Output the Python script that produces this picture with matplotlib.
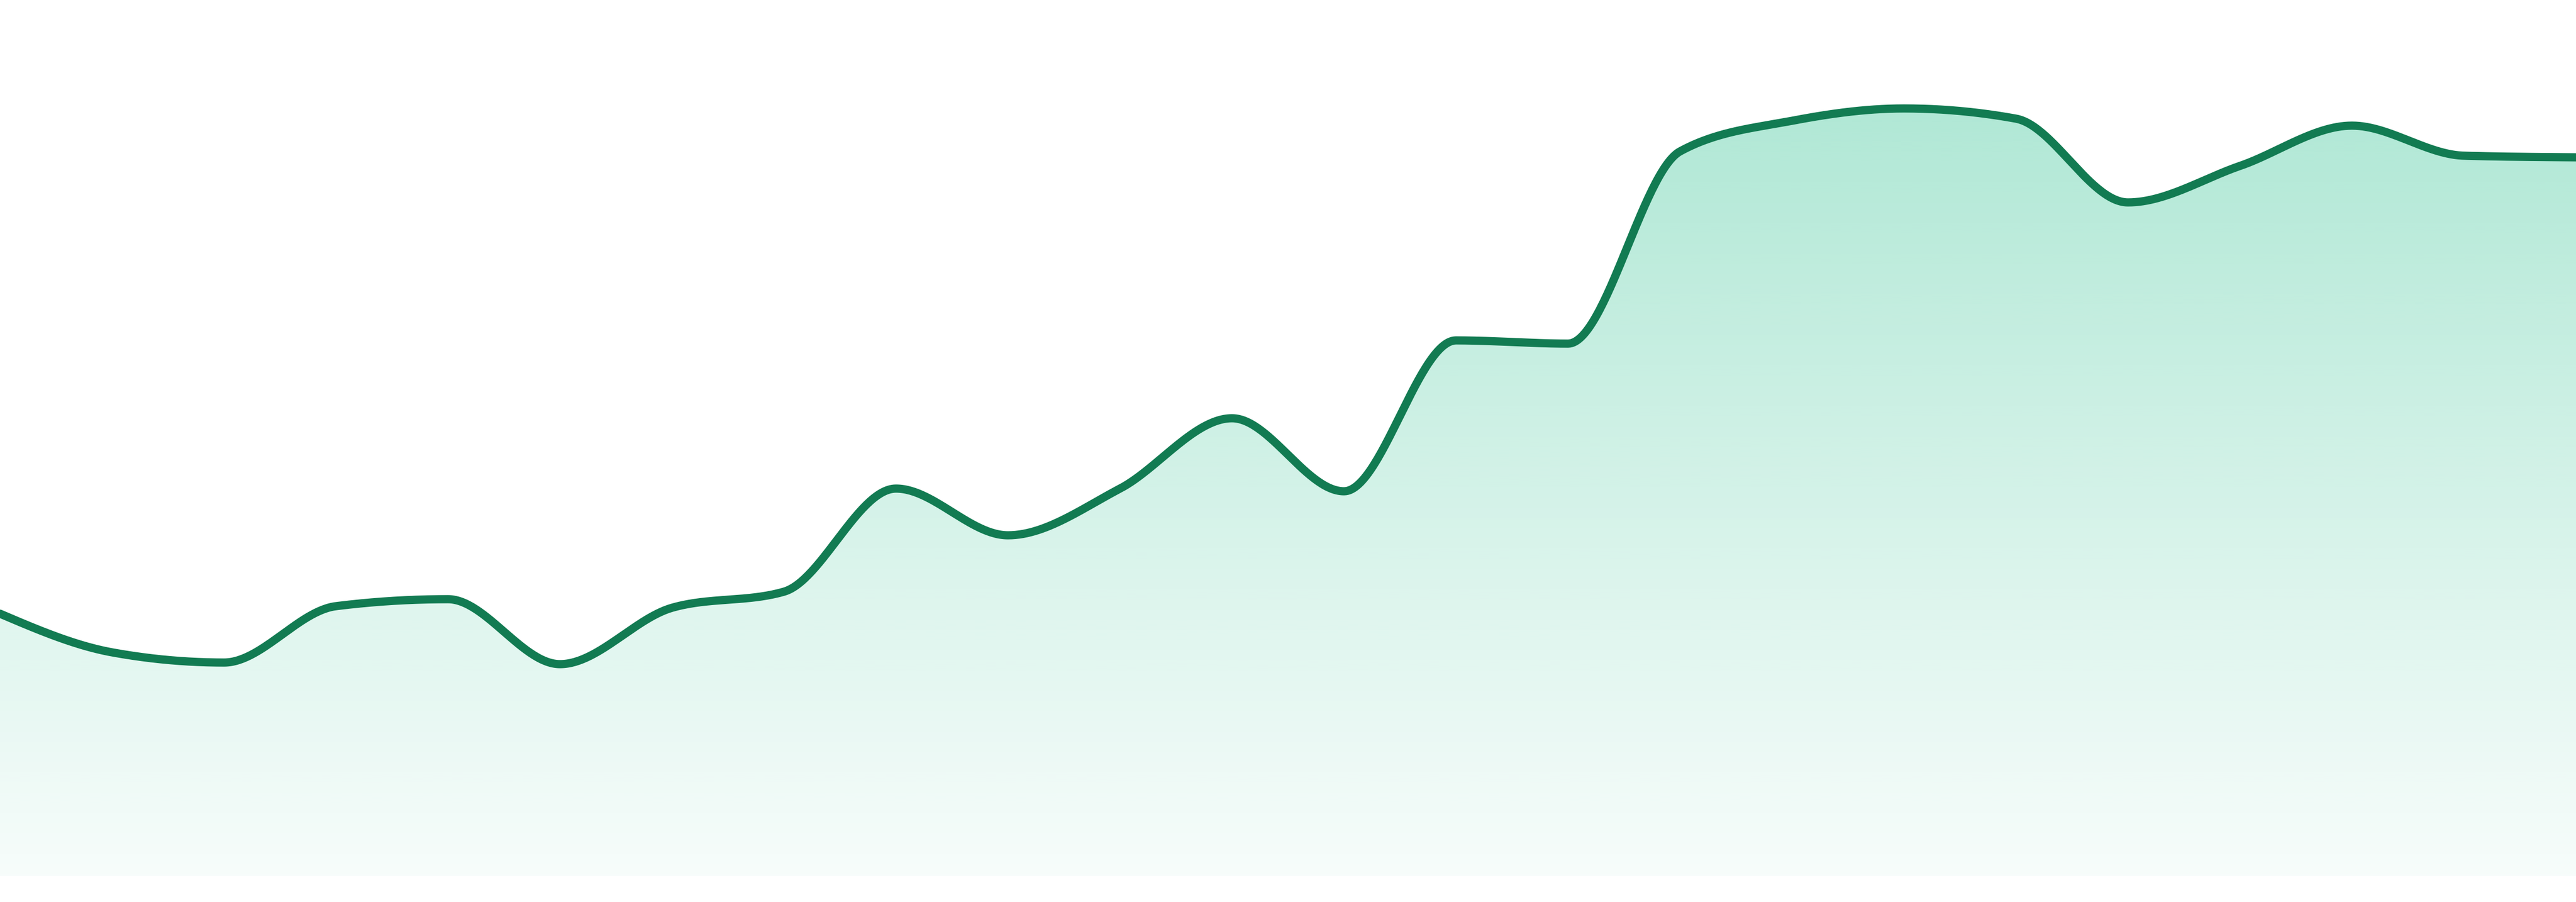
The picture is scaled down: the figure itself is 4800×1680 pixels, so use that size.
import numpy as np
import matplotlib
matplotlib.use("Agg")
import matplotlib.pyplot as plt
from matplotlib.colors import to_rgb

####################################################################################

# series (arbitrary units, one point per step)

steps = list(range(24))

values = [48.9, 41.7, 39.8, 50.3, 51.6, 39.5, 50.0, 53.0, 72.2, 63.5, 72.2, 85.3,
          71.7, 99.8, 99.2, 135.0, 140.7, 143.0, 141.1, 125.5, 132.3, 139.8, 134.2, 133.9]

line_col = '#127b52'
fill_col = '#10b981'

####################################################################################

# monotone cubic smoothing between the points (same idea as d3 curveMonotoneX)

def monotone_curve(x, y, per_seg=60):
    x = np.asarray(x, float)
    y = np.asarray(y, float)
    h = np.diff(x)
    s = np.diff(y) / h
    t = np.zeros_like(y)
    for i in range(1, len(y) - 1):
        p = (s[i-1] * h[i] + s[i] * h[i-1]) / (h[i-1] + h[i])
        t[i] = (np.sign(s[i-1]) + np.sign(s[i])) * min(abs(s[i-1]), abs(s[i]), 0.5 * abs(p))
    t[0] = (3 * s[0] - t[1]) / 2
    t[-1] = (3 * s[-1] - t[-2]) / 2

    xs, ys = [], []
    u = np.linspace(0, 1, per_seg, endpoint=False)
    for i in range(len(h)):
        h00 = 2*u**3 - 3*u**2 + 1
        h10 = u**3 - 2*u**2 + u
        h01 = -2*u**3 + 3*u**2
        h11 = u**3 - u**2
        xs.append(x[i] + u * h[i])
        ys.append(h00*y[i] + h10*h[i]*t[i] + h01*y[i+1] + h11*h[i]*t[i+1])
    xs.append([x[-1]])
    ys.append([y[-1]])
    return np.concatenate(xs), np.concatenate(ys)

####################################################################################

sx, sy = monotone_curve(steps, values)

fig = plt.figure(figsize=(48, 16.8), dpi=100)
ax = fig.add_axes([0, 0, 1, 1])

ax.set_xlim(steps[0], steps[-1])
ax.set_ylim(-4.8, 163.2)
ax.axis('off')

# gradient fill under the line
poly = ax.fill_between(sx, 0, sy, facecolor='none', edgecolor='none')

top = sy.max()
n = 256
alpha = np.linspace(0.035, 0.33, n)[:, None]
rgb = np.array(to_rgb(fill_col))
grad = np.ones((n, 1, 4))
grad[:, :, :3] = rgb
grad[:, :, 3] = alpha

im = ax.imshow(grad, extent=[steps[0], steps[-1], 0, top], origin='lower',
               aspect='auto', interpolation='bilinear', zorder=1)
im.set_clip_path(poly.get_paths()[0], transform=ax.transData)

ax.plot(sx, sy, color=line_col, lw=11, solid_capstyle='round', solid_joinstyle='round', zorder=2)

plt.savefig('out.png', dpi=100)
